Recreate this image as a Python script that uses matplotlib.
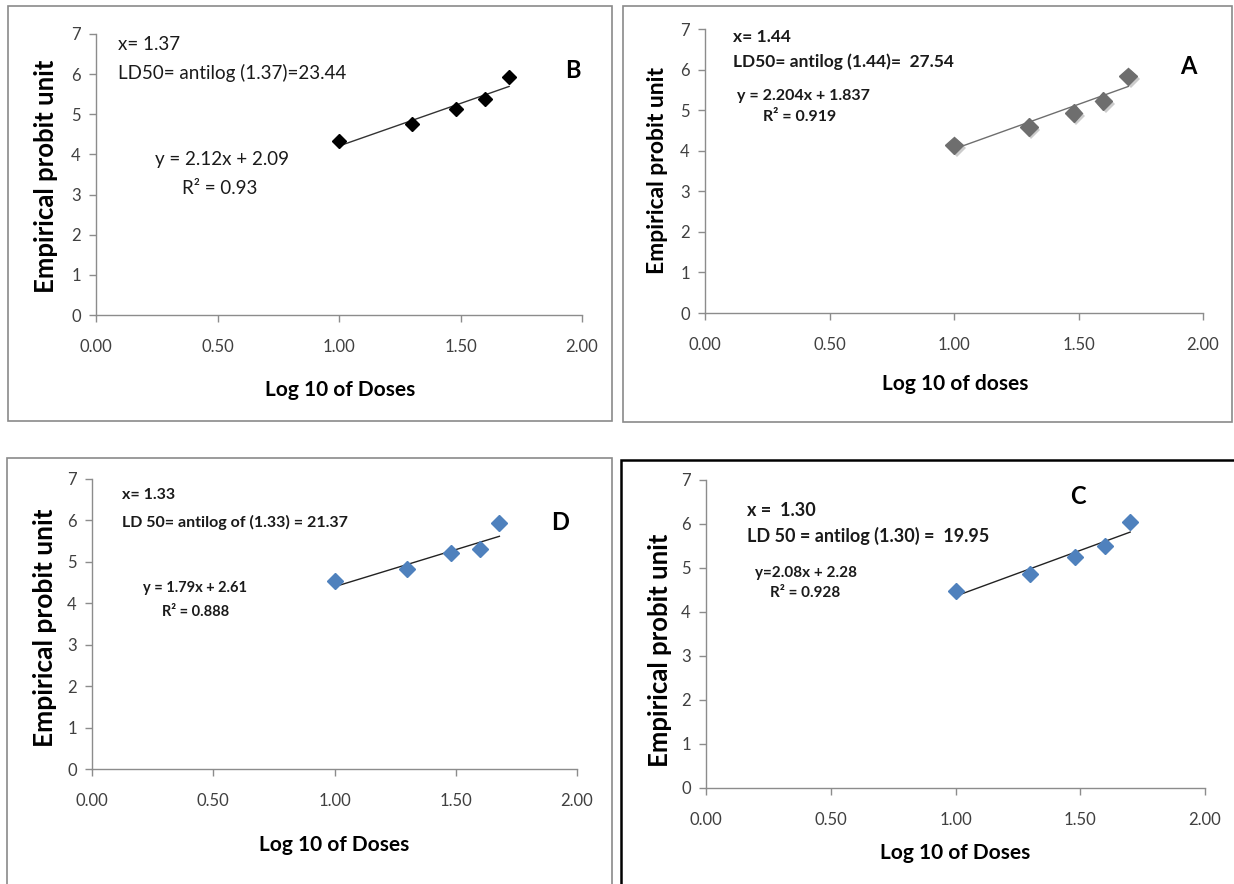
import matplotlib
matplotlib.use("Agg")
import matplotlib.pyplot as plt
import matplotlib.patheffects as pe
from matplotlib.patches import Rectangle
from matplotlib.ticker import FormatStrFormatter
import numpy as np

W, H = 1234, 884
FONT = "Lato"

# ---------------- data ----------------
log_dose = [1.00, 1.30, 1.48, 1.60, 1.70]
log_dose_D = [1.00, 1.30, 1.48, 1.60, 1.68]

probit_B = [4.33, 4.75, 5.13, 5.38, 5.92]
probit_A = [4.13, 4.58, 4.93, 5.22, 5.83]
probit_D = [4.53, 4.82, 5.22, 5.30, 5.93]
probit_C = [4.48, 4.87, 5.25, 5.50, 6.05]

slope = {"B": 2.12, "A": 2.204, "D": 1.79, "C": 2.08}
intercept = {"B": 2.09, "A": 1.837, "D": 2.61, "C": 2.28}

x_ticks = [0.0, 0.5, 1.0, 1.5, 2.0]
y_ticks = [0, 1, 2, 3, 4, 5, 6, 7]

panel_letter = ["B", "A", "D", "C"]
xlabels = ["Log 10 of Doses", "Log 10 of doses", "Log 10 of Doses", "Log 10 of Doses"]
ylabel = "Empirical probit unit"
line1 = ["x= 1.37", "x= 1.44", "x= 1.33", "x =  1.30"]
line2 = ["LD50= antilog (1.37)=23.44", "LD50= antilog (1.44)=  27.54",
         "LD 50= antilog of (1.33) = 21.37", "LD 50 = antilog (1.30) =  19.95"]
eq1 = ["y = 2.12x + 2.09", "y = 2.204x + 1.837", "y = 1.79x + 2.61", "y=2.08x + 2.28"]
eq2 = ["R² = 0.93", "R² = 0.919", "R² = 0.888", "R² = 0.928"]

# ---------------- layout (pixels) ----------------
panels = [
    dict(key="B", x=log_dose, y=probit_B, ax=(96, 34, 582, 315), box=(8, 6, 612, 421),
         boxc="#8a8a8a", boxlw=1.2, mcol="black", ms=9.5, lcol="#333333", bold=False,
         t1=(118, 45), t2=(118, 73), e1=(155, 160), e2=(182, 188), let=(573, 70),
         yl=(46, 176), yfs=18.5, xl=(340, 390), fs=13.5, efs=13.5),
    dict(key="A", x=log_dose, y=probit_A, ax=(705, 29, 1203, 313), box=(623, 6, 1232, 422),
         boxc="#8a8a8a", boxlw=1.2, mcol="#6e6e6e", ms=12.5, lcol="#6e6e6e", bold=True,
         t1=(733, 37), t2=(733, 62), e1=(737, 96), e2=(763, 117), let=(1188, 66),
         yl=(657, 171), yfs=16.5, xl=(955, 384), fs=12.5, efs=11.5),
    dict(key="D", x=log_dose_D, y=probit_D, ax=(92, 479, 577, 769), box=(7, 458, 612, 900),
         boxc="#8a8a8a", boxlw=1.2, mcol="#4F81BD", ms=11, lcol="#222222", bold=True,
         t1=(122, 495), t2=(122, 522), e1=(143, 588), e2=(162, 612), let=(560, 522),
         yl=(45, 628), yfs=19, xl=(334, 845), fs=11.5, efs=10.5),
    dict(key="C", x=log_dose, y=probit_C, ax=(706, 480, 1205, 788), box=(621, 460, 1236, 900),
         boxc="#000000", boxlw=1.8, mcol="#4F81BD", ms=11, lcol="#222222", bold=True,
         t1=(747, 510), t2=(747, 536), e1=(755, 573), e2=(770, 593), let=(1078, 497),
         yl=(660, 650), yfs=18.5, xl=(955, 853), fs=13, efs=11),
]

fig = plt.figure(figsize=(W / 100, H / 100), dpi=100)
fig.patch.set_facecolor("white")


def fx(px):
    return px / W


def fy(py):
    return 1 - py / H


axis_gray = "#8c8c8c"
tick_col = "#404040"

for i, p in enumerate(panels):
    bx0, by0, bx1, by1 = p["box"]
    fig.patches.append(Rectangle((fx(bx0), fy(by1)), fx(bx1) - fx(bx0), fy(by0) - fy(by1),
                                 transform=fig.transFigure, fill=False,
                                 edgecolor=p["boxc"], linewidth=p["boxlw"], zorder=0))
    l, t, r, b = p["ax"]
    ax = fig.add_axes([fx(l), fy(b), fx(r) - fx(l), fy(t) - fy(b)])
    ax.set_facecolor("none")
    ax.set_xlim(0, 2)
    ax.set_ylim(0, 7)
    ax.set_xticks(x_ticks)
    ax.set_yticks(y_ticks)
    ax.xaxis.set_major_formatter(FormatStrFormatter("%.2f"))
    for s in ["top", "right"]:
        ax.spines[s].set_visible(False)
    for s in ["left", "bottom"]:
        ax.spines[s].set_color(axis_gray)
        ax.spines[s].set_linewidth(1.0)
    ax.tick_params(axis="both", direction="out", length=5, width=1.0, color=axis_gray,
                   labelcolor=tick_col, labelsize=12)
    ax.tick_params(axis="x", pad=12)
    ax.tick_params(axis="y", pad=6)
    for lab in ax.get_xticklabels() + ax.get_yticklabels():
        lab.set_fontfamily(FONT)

    xs = np.array(p["x"])
    k = p["key"]
    ax.plot([xs.min(), xs.max()], [slope[k] * xs.min() + intercept[k], slope[k] * xs.max() + intercept[k]],
            color=p["lcol"], linewidth=1.0, zorder=2)
    kw = {}
    if k == "A":
        kw["path_effects"] = [pe.SimplePatchShadow(offset=(2, -2), shadow_rgbFace="#aaaaaa", alpha=0.6),
                              pe.Normal()]
    ax.plot(xs, p["y"], linestyle="none", marker="D", markersize=p["ms"] * 0.72,
            color=p["mcol"], markeredgecolor=p["mcol"], zorder=3, clip_on=False, **kw)

    w = "bold" if p["bold"] else "normal"
    fs = p["fs"]
    fig.text(fx(p["t1"][0]), fy(p["t1"][1]), line1[i], fontsize=fs, fontweight=w,
             family=FONT, va="center", ha="left", color="#1a1a1a")
    fig.text(fx(p["t2"][0]), fy(p["t2"][1]), line2[i], fontsize=fs, fontweight=w,
             family=FONT, va="center", ha="left", color="#1a1a1a")
    fig.text(fx(p["e1"][0]), fy(p["e1"][1]), eq1[i], fontsize=p["efs"],
             fontweight=w, family=FONT, va="center", ha="left", color="#1a1a1a")
    fig.text(fx(p["e2"][0]), fy(p["e2"][1]), eq2[i], fontsize=p["efs"],
             fontweight=w, family=FONT, va="center", ha="left", color="#1a1a1a")
    fig.text(fx(p["let"][0]), fy(p["let"][1]), panel_letter[i], fontsize=17, fontweight="bold",
             family=FONT, va="center", ha="center", color="black")
    fig.text(fx(p["yl"][0]), fy(p["yl"][1]), ylabel, fontsize=p["yfs"], fontweight="bold",
             family=FONT, rotation=90, va="center", ha="center", color="black")
    fig.text(fx(p["xl"][0]), fy(p["xl"][1]), xlabels[i], fontsize=15, fontweight="bold",
             family=FONT, va="center", ha="center", color="black")

fig.savefig("out.png", dpi=100)
